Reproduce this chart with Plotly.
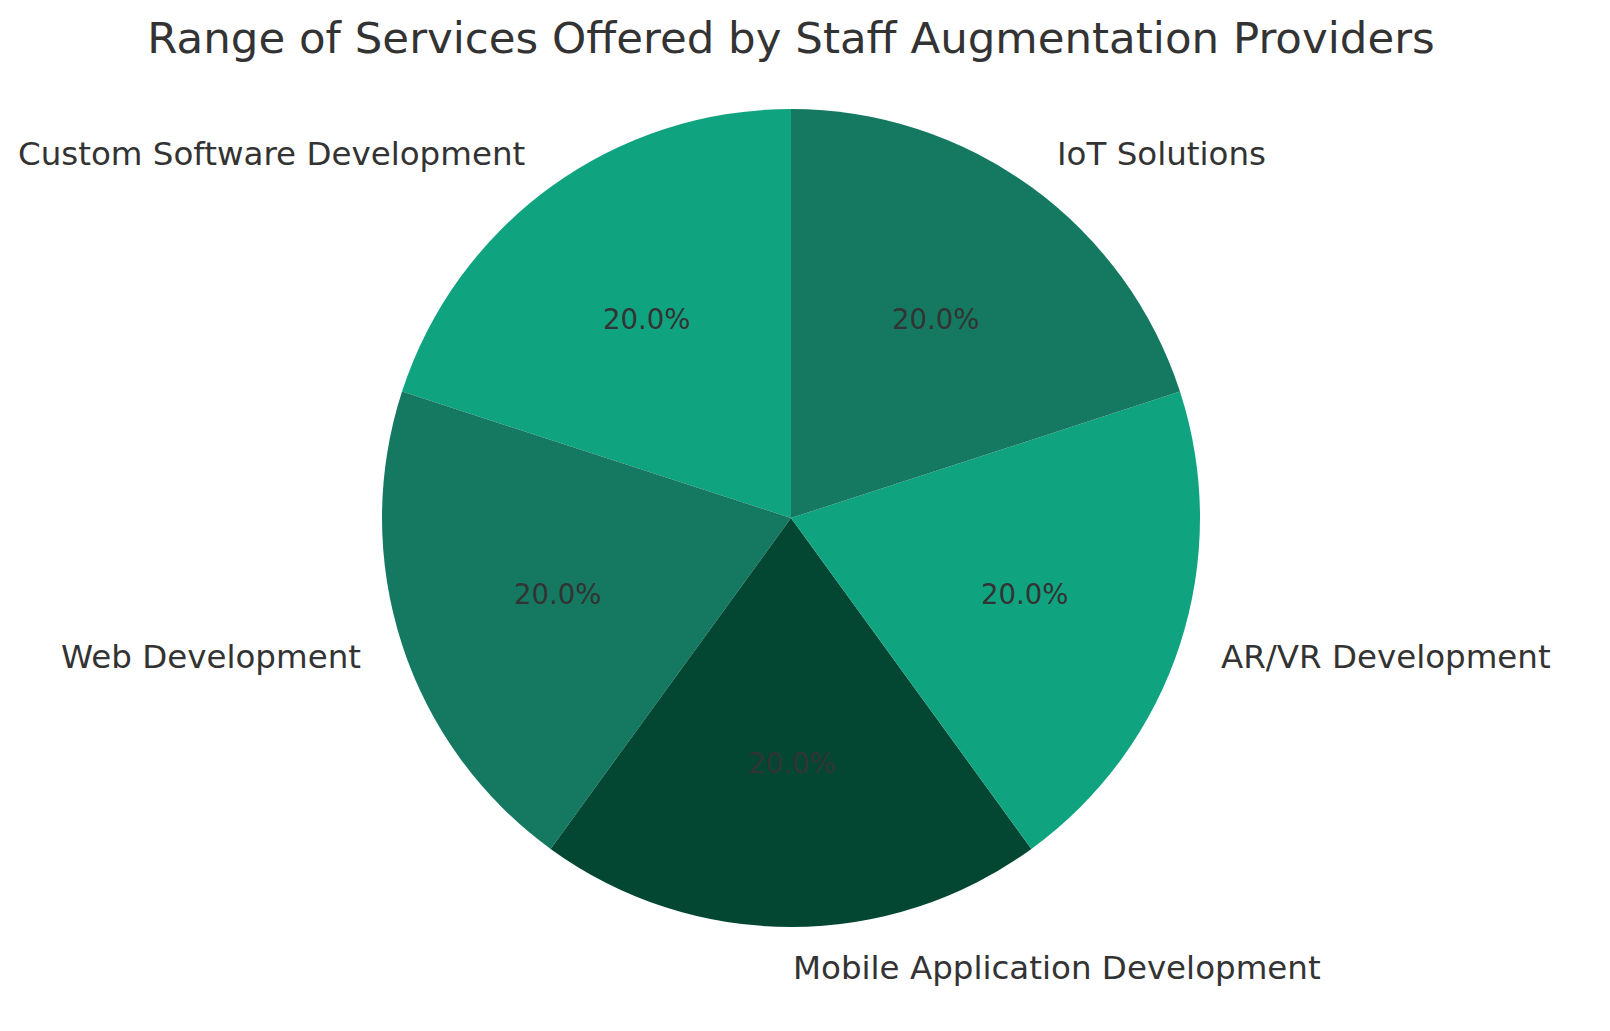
import math
import plotly.graph_objects as go

# ---- data ----
categories = [
    "Custom Software Development",
    "Web Development",
    "Mobile Application Development",
    "AR/VR Development",
    "IoT Solutions",
]
values = [20, 20, 20, 20, 20]
colors = ["#10a37f", "#147960", "#034733", "#10a37f", "#147960"]

# ---- layout constants (pixels) ----
W, H = 1610, 1031
CX, CY, R = 791, 518, 409
TEXT = "#333333"
FONT = "DejaVu Sans"

total = sum(values)

fig = go.Figure()
fig.add_trace(go.Pie(
    labels=categories,
    values=values,
    marker=dict(colors=colors, line=dict(width=0)),
    sort=False,
    direction="counterclockwise",
    # plotly's counterclockwise pie ends the first slice at `rotation`,
    # so shift back by the first slice so it starts at 12 o'clock
    rotation=-360 * values[0] / total,
    textinfo="none",
    hoverinfo="label+percent",
    showlegend=False,
    domain=dict(x=[(CX - R) / W, (CX + R) / W], y=[(H - CY - R) / H, (H - CY + R) / H]),
))

annotations = []
cum = 0.0
for cat, v in zip(categories, values):
    frac = v / total
    mid = math.radians(90 + 360 * (cum + frac / 2))
    cum += frac
    c, s = math.cos(mid), math.sin(mid)
    # percentage label at 0.6 r
    px, py = CX + 0.6 * R * c, CY - 0.6 * R * s
    annotations.append(dict(
        x=px / W, y=1 - py / H, xref="paper", yref="paper",
        text=f"{frac * 100:.1f}%", showarrow=False,
        xanchor="center", yanchor="middle",
        font=dict(family=FONT, size=27.5, color=TEXT),
    ))
    # category label at 1.1 r
    lx, ly = CX + 1.1 * R * c, CY - 1.1 * R * s
    annotations.append(dict(
        x=lx / W, y=1 - ly / H, xref="paper", yref="paper",
        text=cat, showarrow=False,
        xanchor="left" if c > -1e-9 else "right", yanchor="middle",
        font=dict(family=FONT, size=32.5, color=TEXT),
    ))

fig.update_layout(
    width=W, height=H,
    margin=dict(l=0, r=0, t=0, b=0),
    paper_bgcolor="white", plot_bgcolor="white",
    title=dict(
        text="Range of Services Offered by Staff Augmentation Providers",
        x=CX / W, xanchor="center", y=1 - 38 / H, yanchor="middle",
        font=dict(family=FONT, size=43.5, color=TEXT),
    ),
    annotations=annotations,
)

fig.write_html(
    "out.html",
    config={"displayModeBar": False},
    post_script="document.body.style.margin='0';document.body.style.overflow='hidden';",
)
